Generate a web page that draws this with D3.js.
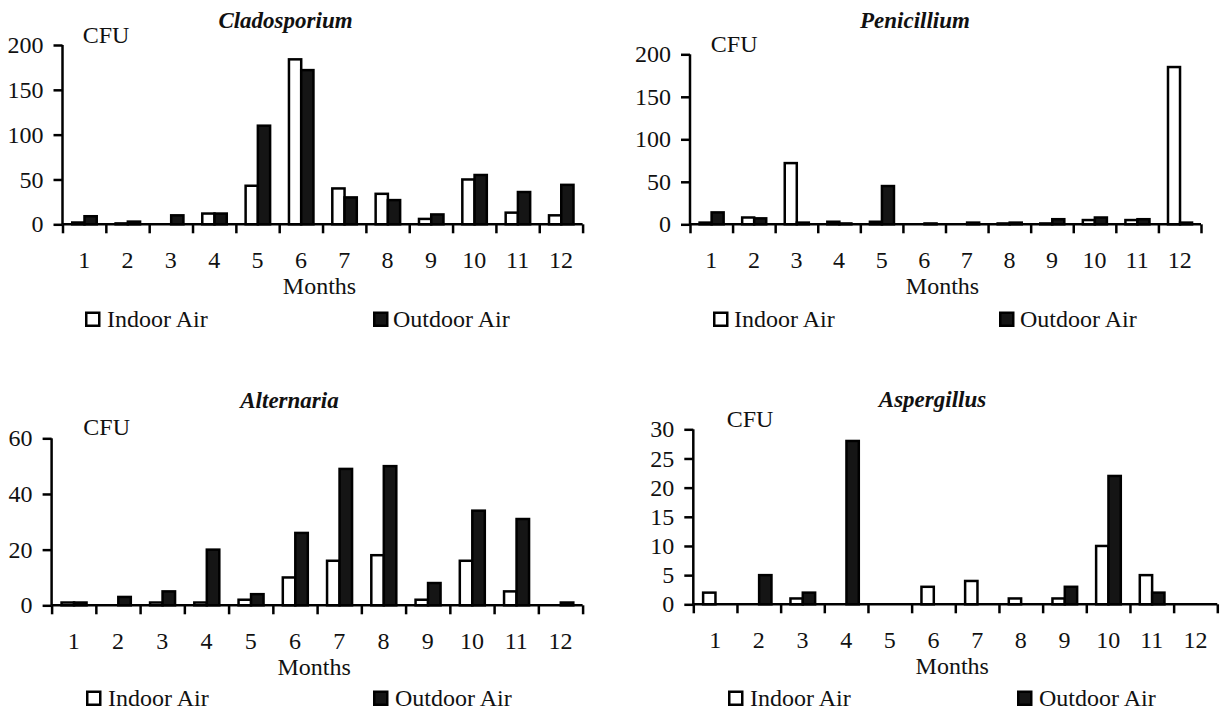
<!DOCTYPE html>
<html>
<head>
<meta charset="utf-8">
<script src="https://cdn.jsdelivr.net/npm/d3@7"></script>
<style>
  html, body { margin: 0; padding: 0; background: #fff; }
  svg { display: block; }
  text { font-family: "Liberation Serif", "Times New Roman", serif; fill: #111; }
</style>
</head>
<body>
<svg id="chart" width="1224" height="710"></svg>
<script>
// ---- data ----
const months = ["1","2","3","4","5","6","7","8","9","10","11","12"];
const seriesNames = ["Indoor Air", "Outdoor Air"];
const titles = ["Cladosporium", "Penicillium", "Alternaria", "Aspergillus"];

const cladoIndoor  = [2, 1, 0, 12, 43, 184, 40, 34, 6, 50, 13, 10];
const cladoOutdoor = [9, 3, 10, 12, 110, 172, 30, 27, 11, 55, 36, 44];
const peniIndoor   = [2, 8, 72, 3, 3, 0, 0, 1, 1, 5, 5, 185];
const peniOutdoor  = [14, 7, 2, 1, 45, 1, 2, 2, 6, 8, 6, 2];
const altIndoor    = [1, 0, 1, 1, 2, 10, 16, 18, 2, 16, 5, 0];
const altOutdoor   = [1, 3, 5, 20, 4, 26, 49, 50, 8, 34, 31, 1];
const aspIndoor    = [2, 0, 1, 0, 0, 3, 4, 1, 1, 10, 5, 0];
const aspOutdoor   = [0, 5, 2, 28, 0, 0, 0, 0, 3, 22, 2, 0];

const cladoTicks = [0, 50, 100, 150, 200];
const peniTicks  = [0, 50, 100, 150, 200];
const altTicks   = [0, 20, 40, 60];
const aspTicks   = [0, 5, 10, 15, 20, 25, 30];

// ---- layout ----
const panels = [
  { title: titles[0], indoor: cladoIndoor, outdoor: cladoOutdoor, ticks: cladoTicks,
    left: 62.5, right: 582.6, top: 45, bottom: 224.3,
    titleX: 285.5, titleY: 28, cfuX: 82.7, cfuY: 43.3,
    legY: 327, legW: 85, legWT: 107, legB: 373, legBT: 393 },
  { title: titles[1], indoor: peniIndoor, outdoor: peniOutdoor, ticks: peniTicks,
    left: 690, right: 1201, top: 54.3, bottom: 224.3,
    titleX: 915, titleY: 28, cfuX: 710.8, cfuY: 51.7,
    legY: 327, legW: 713, legWT: 734, legB: 999, legBT: 1020 },
  { title: titles[2], indoor: altIndoor, outdoor: altOutdoor, ticks: altTicks,
    left: 51.6, right: 582.6, top: 438.3, bottom: 605.3,
    titleX: 289.5, titleY: 408, cfuX: 83.3, cfuY: 435,
    legY: 706, legW: 86, legWT: 108, legB: 373, legBT: 395 },
  { title: titles[3], indoor: aspIndoor, outdoor: aspOutdoor, ticks: aspTicks,
    left: 693.3, right: 1217.3, top: 429.3, bottom: 604.3,
    titleX: 932.5, titleY: 407, cfuX: 726.7, cfuY: 426.7,
    legY: 706, legW: 728, legWT: 750, legB: 1017, legBT: 1039 }
];

const FS = 24;
const STROKE = 2.5;
const DARK = "#151515";
const svg = d3.select("#chart");

panels.forEach(p => {
  const g = svg.append("g");
  const yMax = p.ticks[p.ticks.length - 1];
  const y = d3.scaleLinear().domain([0, yMax]).range([p.bottom, p.top]);
  const x0 = d3.scaleBand().domain(months).range([p.left, p.right]).padding(0);
  const bw = x0.bandwidth();
  const x1 = d3.scaleBand().domain(seriesNames).range([bw * 0.225, bw * 0.79]).padding(0);
  const xb = d3.scaleLinear().domain([0, months.length]).range([p.left, p.right]);

  // bars
  const data = months.map((m, i) => ({ m, vals: [
    { s: seriesNames[0], v: p.indoor[i] },
    { s: seriesNames[1], v: p.outdoor[i] } ] }));
  const grp = g.selectAll("g.month").data(data).enter().append("g")
    .attr("transform", d => `translate(${x0(d.m)},0)`);
  grp.selectAll("rect").data(d => d.vals.filter(e => e.v > 0)).enter().append("rect")
    .attr("x", d => x1(d.s))
    .attr("width", x1.bandwidth())
    .attr("y", d => y(d.v))
    .attr("height", d => y(0) - y(d.v))
    .attr("fill", d => d.s === seriesNames[0] ? "#fff" : DARK)
    .attr("stroke", "#000")
    .attr("stroke-width", STROKE);

  // y axis
  const yAxis = g.append("g").attr("transform", `translate(${p.left},0)`)
    .call(d3.axisLeft(y).tickValues(p.ticks).tickSize(9).tickPadding(10).tickFormat(d3.format("d")));
  yAxis.selectAll("text").attr("font-size", FS).attr("fill", "#111")
    .attr("font-family", "Liberation Serif, Times New Roman, serif");

  // x axis (ticks at category boundaries)
  const xAxis = g.append("g").attr("transform", `translate(0,${p.bottom})`)
    .call(d3.axisBottom(xb).tickValues(d3.range(0, months.length + 1)).tickSize(9).tickFormat(""));
  [yAxis, xAxis].forEach(a => {
    a.select(".domain").attr("stroke", "#000").attr("stroke-width", STROKE);
    a.selectAll(".tick line").attr("stroke", "#000").attr("stroke-width", STROKE);
  });
  // y domain: no outer tick caps
  yAxis.select(".domain").attr("d", `M0,${p.top}V${p.bottom}`);
  xAxis.select(".domain").attr("d", `M${p.left},0H${p.right}`);

  // month labels
  const mAxis = g.append("g").attr("transform", `translate(0,${p.bottom})`)
    .call(d3.axisBottom(x0).tickSize(0).tickPadding(0));
  mAxis.select(".domain").remove();
  mAxis.selectAll("text").attr("y", 44).attr("dy", 0)
    .attr("font-size", FS).attr("fill", "#111")
    .attr("font-family", "Liberation Serif, Times New Roman, serif");

  // Months label
  g.append("text").attr("x", (p.left + p.right) / 2 - 3).attr("y", p.bottom + 70)
    .attr("text-anchor", "middle").attr("font-size", FS).text("Months");

  // title
  g.append("text").attr("x", p.titleX).attr("y", p.titleY)
    .attr("text-anchor", "middle").attr("font-size", 23)
    .attr("font-weight", "bold").attr("font-style", "italic").text(p.title);

  // CFU
  g.append("text").attr("x", p.cfuX).attr("y", p.cfuY).attr("font-size", FS).text("CFU");

  // legend
  const sq = 13;
  g.append("rect").attr("x", p.legW + 1.25).attr("y", p.legY - sq - 1.25)
    .attr("width", sq).attr("height", sq).attr("fill", "#fff")
    .attr("stroke", "#000").attr("stroke-width", STROKE);
  g.append("text").attr("x", p.legWT).attr("y", p.legY).attr("font-size", FS).text(seriesNames[0]);
  g.append("rect").attr("x", p.legB + 1.25).attr("y", p.legY - sq - 1.25)
    .attr("width", sq).attr("height", sq).attr("fill", DARK)
    .attr("stroke", "#000").attr("stroke-width", STROKE);
  g.append("text").attr("x", p.legBT).attr("y", p.legY).attr("font-size", FS).text(seriesNames[1]);
});
</script>
</body>
</html>
